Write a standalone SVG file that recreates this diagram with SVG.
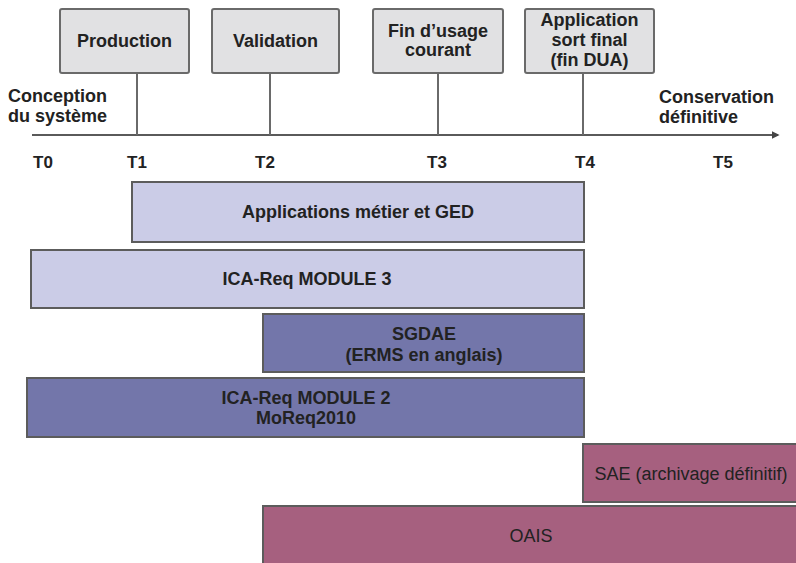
<svg xmlns="http://www.w3.org/2000/svg" width="796" height="563" viewBox="0 0 796 563">
  <style>
    text { font-family: "Liberation Sans", Arial, sans-serif; fill: #222; }
    .b { font-weight: bold; font-size: 18px; }
    .r { font-size: 18px; }
    .t { font-weight: bold; font-size: 17px; }
    .mid { text-anchor: middle; }
    .milestone { fill: #e1e1e3; stroke: #6a6a6a; stroke-width: 2; }
    .tick { stroke: #6a6a6a; stroke-width: 2; fill: none; }
    .axis { stroke: #5a5a5a; stroke-width: 2; fill: none; }
    .bar { stroke: #5c5c5c; stroke-width: 2; }
    .light { fill: #cbcce7; }
    .dark { fill: #7376aa; }
    .plum { fill: #a6607f; }
  </style>
  <defs>
    <marker id="arrow" viewBox="0 0 10 10" refX="8" refY="5" markerWidth="4" markerHeight="4" orient="auto">
      <path d="M0,0 L10,5 L0,10 z" fill="#444"/>
    </marker>
  </defs>

  <rect width="796" height="563" fill="#ffffff"/>

  <!-- timeline axis and milestone ticks -->
  <g id="connectors">
    <line class="axis" x1="32" y1="135" x2="778" y2="135" marker-end="url(#arrow)"/>
    <line class="tick" x1="137" y1="73" x2="137" y2="135"/>
    <line class="tick" x1="270" y1="73" x2="270" y2="135"/>
    <line class="tick" x1="438" y1="73" x2="438" y2="135"/>
    <line class="tick" x1="583" y1="73" x2="583" y2="135"/>
  </g>

  <!-- milestones -->
  <g id="production">
    <rect class="milestone" x="60" y="9" width="129" height="64" rx="2"/>
    <text class="b mid" x="124.5" y="47">Production</text>
  </g>
  <g id="validation">
    <rect class="milestone" x="212" y="9" width="127" height="64" rx="2"/>
    <text class="b mid" x="275.5" y="47">Validation</text>
  </g>
  <g id="fin-usage">
    <rect class="milestone" x="373" y="9" width="130" height="64" rx="2"/>
    <text class="b mid" x="438" y="37">Fin d’usage</text>
    <text class="b mid" x="438" y="56">courant</text>
  </g>
  <g id="application-sort">
    <rect class="milestone" x="525" y="9" width="129" height="64" rx="2"/>
    <text class="b mid" x="589.5" y="26">Application</text>
    <text class="b mid" x="589.5" y="46">sort final</text>
    <text class="b mid" x="589.5" y="66">(fin DUA)</text>
  </g>

  <!-- axis end labels -->
  <g id="conception">
    <text class="b" x="8" y="102">Conception</text>
    <text class="b" x="8" y="122">du système</text>
  </g>
  <g id="conservation">
    <text class="b" x="659" y="103">Conservation</text>
    <text class="b" x="659" y="123">définitive</text>
  </g>

  <!-- time marks -->
  <g id="time-marks">
    <text class="t mid" x="43" y="168">T0</text>
    <text class="t mid" x="137" y="168">T1</text>
    <text class="t mid" x="265" y="168">T2</text>
    <text class="t mid" x="437" y="168">T3</text>
    <text class="t mid" x="585" y="168">T4</text>
    <text class="t mid" x="723" y="168">T5</text>
  </g>

  <!-- coverage bars -->
  <g id="applications-ged">
    <rect class="bar light" x="132" y="182" width="452" height="60"/>
    <text class="b mid" x="358" y="218">Applications métier et GED</text>
  </g>
  <g id="ica-module-3">
    <rect class="bar light" x="31" y="250" width="553" height="58"/>
    <text class="b mid" x="307" y="285">ICA-Req MODULE 3</text>
  </g>
  <g id="sgdae">
    <rect class="bar dark" x="263" y="314" width="321" height="58"/>
    <text class="b mid" x="424" y="340">SGDAE</text>
    <text class="b mid" x="424" y="361">(ERMS en anglais)</text>
  </g>
  <g id="ica-module-2">
    <rect class="bar dark" x="27" y="378" width="557" height="59"/>
    <text class="b mid" x="306" y="404">ICA-Req MODULE 2</text>
    <text class="b mid" x="306" y="424">MoReq2010</text>
  </g>
  <g id="sae">
    <rect class="bar plum" x="583" y="444" width="216" height="58"/>
    <text class="r mid" x="691" y="480">SAE (archivage définitif)</text>
  </g>
  <g id="oais">
    <rect class="bar plum" x="263" y="506" width="536" height="60"/>
    <text class="r mid" x="531" y="542">OAIS</text>
  </g>
</svg>
